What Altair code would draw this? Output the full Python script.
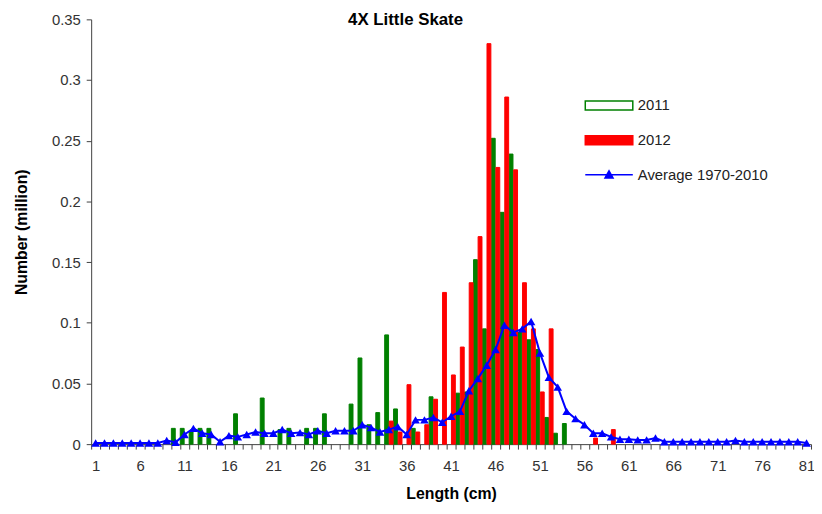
import altair as alt
import pandas as pd

# ---------------- data ----------------
cm = list(range(1, 82))

n2011 = [
    0, 0, 0, 0, 0, 0, 0, 0, 0, 0.013,                                  # 1-10
    0.013, 0.010, 0.013, 0.013, 0, 0, 0.025, 0, 0, 0.038,              # 11-20
    0, 0.012, 0.013, 0, 0.013, 0.013, 0.025, 0, 0, 0.033,              # 21-30
    0.071, 0.016, 0.026, 0.090, 0.029, 0, 0.013, 0, 0.039, 0,          # 31-40
    0, 0.042, 0.043, 0.152, 0.095, 0.252, 0.191, 0.239, 0.092, 0.086,  # 41-50
    0.078, 0.022, 0.009, 0.017, 0, 0, 0, 0, 0, 0,                      # 51-60
    0, 0, 0, 0, 0, 0, 0, 0, 0, 0,                                      # 61-70
    0, 0, 0, 0, 0, 0, 0, 0, 0, 0,                                      # 71-80
    0,                                                                 # 81
]

n2012 = [
    0, 0, 0, 0, 0, 0, 0, 0, 0, 0,                                      # 1-10
    0, 0, 0, 0, 0, 0, 0, 0, 0, 0,                                      # 11-20
    0, 0, 0, 0, 0, 0, 0, 0, 0, 0,                                      # 21-30
    0, 0, 0, 0.019, 0.010, 0.049, 0.010, 0.016, 0.037, 0.125,          # 31-40
    0.057, 0.080, 0.133, 0.171, 0.330, 0.228, 0.286, 0.226, 0.133, 0.095,  # 41-50
    0.043, 0.095, 0, 0, 0, 0, 0.005, 0, 0.012, 0,                      # 51-60
    0, 0, 0, 0, 0, 0, 0, 0, 0, 0,                                      # 61-70
    0, 0, 0, 0, 0, 0, 0, 0, 0, 0,                                      # 71-80
    0,                                                                 # 81
]

avg = [
    0.001, 0.001, 0.001, 0.001, 0.001, 0.001, 0.001, 0.001, 0.003, 0.0015,   # 1-10
    0.008, 0.013, 0.009, 0.008, 0.002, 0.007, 0.006, 0.008, 0.010, 0.009,    # 11-20
    0.009, 0.012, 0.009, 0.0095, 0.008, 0.011, 0.009, 0.011, 0.011, 0.011,   # 21-30
    0.016, 0.0136, 0.010, 0.012, 0.0144, 0.008, 0.020, 0.020, 0.022, 0.018, # 31-40
    0.023, 0.027, 0.044, 0.054, 0.065, 0.078, 0.098, 0.092, 0.095, 0.101,   # 41-50
    0.075, 0.055, 0.047, 0.027, 0.021, 0.016, 0.009, 0.009, 0.006, 0.004,   # 51-60
    0.004, 0.0035, 0.0035, 0.005, 0.002, 0.002, 0.002, 0.002, 0.002, 0.002, # 61-70
    0.002, 0.002, 0.003, 0.002, 0.002, 0.002, 0.002, 0.002, 0.002, 0.002,   # 71-80
    0.001,                                                                  # 81
]

series_names = ["2011", "2012", "Average 1970-2010"]
y_ticks = [0, 0.05, 0.1, 0.15, 0.2, 0.25, 0.3, 0.35]

# ---------------- tables ----------------
df11 = pd.DataFrame({"cm": cm, "value": n2011, "series": "2011"})
df11 = df11[df11["value"] > 0]
df12 = pd.DataFrame({"cm": cm, "value": n2012, "series": "2012"})
df12 = df12[df12["value"] > 0]
dfavg = pd.DataFrame({"cm": cm, "value": avg, "series": "Average 1970-2010"})

FONT = "Liberation Sans"
W, H = 727, 429

x_enc = alt.X(
    "cm:O",
    scale=alt.Scale(domain=cm, paddingInner=0, paddingOuter=0),
    axis=alt.Axis(
        title="Length (cm)",
        labelExpr="(datum.value - 1) % 5 == 0 ? datum.label : ''",
        labelAngle=0,
        labelOverlap=False,
        tickBand="extent",
        tickSize=5,
        labelPadding=10,
        titlePadding=12,
    ),
)
y_enc = alt.Y(
    "value:Q",
    scale=alt.Scale(domain=[0, 0.35], nice=False, zero=True),
    axis=alt.Axis(
        title="Number (million)",
        values=y_ticks,
        format=".2~f",
        tickSize=5,
        labelPadding=6,
        titlePadding=22,
    ),
)
xoff = alt.XOffset(
    "series:N",
    scale=alt.Scale(domain=["2011", "2012"], paddingInner=0.15, paddingOuter=0.05),
)

bars11 = alt.Chart(df11).mark_bar(
    fill="#008000", stroke="#008000", strokeWidth=1
).encode(x=x_enc, y=y_enc, xOffset=xoff)

bars12 = alt.Chart(df12).mark_bar(
    fill="#FF0000", stroke="#FF0000", strokeWidth=1
).encode(x=x_enc, y=y_enc, xOffset=xoff)

line = alt.Chart(dfavg).mark_line(color="#0000FF", strokeWidth=2).encode(x=x_enc, y=y_enc)

pts = alt.Chart(dfavg).mark_point(
    shape="triangle-up", filled=True, color="#0000FF", size=75, opacity=1
).encode(x=x_enc, y=y_enc)

# legend-only layer (no rows drawn; explicit scale domains give the legend)
leg_def = alt.Legend(
    title=None,
    orient="none",
    legendX=498,
    legendY=62,
    symbolSize=2304,
    symbolStrokeWidth=1.5,
    labelFont=FONT,
    labelFontSize=15,
    labelColor="#222222",
    labelOffset=4,
    rowPadding=2,
    padding=0,
)
rect_path = "M-1,-0.19H1V0.19H-1Z"
line_tri_path = "M-1,0H1M0,-0.17L0.17,0.13L-0.17,0.13Z"
leg = alt.Chart(dfavg).transform_filter("false").mark_point(
    filled=True, strokeWidth=1.5, opacity=1
).encode(
    fill=alt.Fill("series:N", scale=alt.Scale(domain=series_names, range=["#FFFFFF", "#FF0000", "#0000FF"]), legend=leg_def),
    stroke=alt.Stroke("series:N", scale=alt.Scale(domain=series_names, range=["#008000", "#FF0000", "#0000FF"]), legend=leg_def),
    shape=alt.Shape("series:N", scale=alt.Scale(domain=series_names, range=[rect_path, rect_path, line_tri_path]), legend=leg_def),
)

chart = alt.layer(bars11, bars12, line, pts, leg).properties(
    width=W,
    height=H,
    padding={"left": 84, "top": 9, "right": 3, "bottom": 60},
    autosize=alt.AutoSizeParams(type="none"),
    title=alt.TitleParams(
        "4X Little Skate",
        font=FONT,
        fontSize=17,
        fontWeight="bold",
        color="#000000",
        anchor="middle",
        dx=-46,
        dy=21,
    ),
).configure_view(stroke=None).configure_axis(
    grid=False,
    domainColor="#404040",
    tickColor="#404040",
    labelFont=FONT,
    labelFontSize=15,
    labelColor="#333333",
    titleFont=FONT,
    titleFontSize=16,
    titleFontWeight="bold",
    titleColor="#000000",
)

chart.save("out.html", embed_options={"renderer": "svg", "actions": False})
